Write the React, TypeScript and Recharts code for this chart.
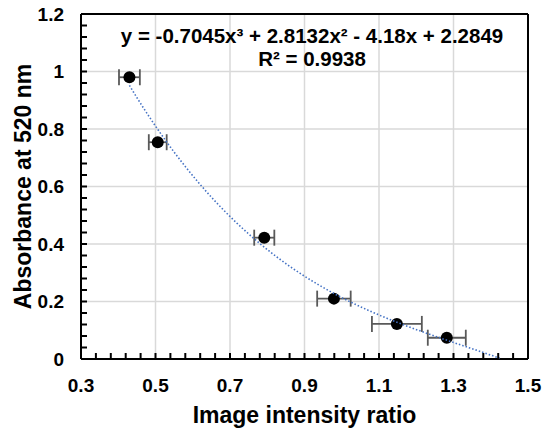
import React from "react";
import {
  ComposedChart,
  ErrorBar,
  ReferenceLine,
  Scatter,
  XAxis,
  YAxis,
} from "recharts";

const ratio = [0.43, 0.506, 0.792, 0.979, 1.148, 1.282];
const absorbance = [0.98, 0.754, 0.422, 0.21, 0.122, 0.074];
const ratioErr = [0.028, 0.024, 0.027, 0.045, 0.067, 0.051];

// cubic trendline coefficients shown on the chart (x^3, x^2, x, 1)
const coeffs = [-0.7045, 2.8132, -4.18, 2.2849];
const trendStart = 0.43;
const trendEnd = 1.424;

const xMajor = [0.3, 0.5, 0.7, 0.9, 1.1, 1.3, 1.5];
const yMajor = [0, 0.2, 0.4, 0.6, 0.8, 1, 1.2];
const xMinor = Array.from({ length: 31 }, (_, i) => Math.round((0.3 + i * 0.04) * 100) / 100);
const yMinor = Array.from({ length: 31 }, (_, i) => Math.round(i * 0.04 * 100) / 100);

const points = ratio.map((x, i) => ({ x, y: absorbance[i], err: ratioErr[i] }));

const trend: { x: number; y: number }[] = [];
for (let i = 0; i <= 100; i++) {
  const x = trendStart + ((trendEnd - trendStart) * i) / 100;
  const y = coeffs[0] * x ** 3 + coeffs[1] * x ** 2 + coeffs[2] * x + coeffs[3];
  trend.push({ x, y: Math.max(y, 0) });
}

const FONT = "'Liberation Sans', Arial, sans-serif";

const isMajor = (v: number, list: number[]) => list.some((m) => Math.abs(m - v) < 1e-6);

// inward tick marks on every minor step, labels only on the major ones
const XTick = (props: any) => {
  const { x, y, payload } = props;
  return (
    <g>
      <path d={`M${x},${y}L${x},${y - 6}`} stroke="#000" strokeWidth={2} fill="none" />
      {isMajor(payload.value, xMajor) && (
        <text x={x} y={y + 20} dy="0.71em" textAnchor="middle" fontFamily={FONT} fontWeight="bold" fontSize={19} fill="#000">
          {payload.value.toFixed(1)}
        </text>
      )}
    </g>
  );
};

const YTick = (props: any) => {
  const { x, y, payload } = props;
  return (
    <g>
      <path d={`M${x},${y}L${x + 6},${y}`} stroke="#000" strokeWidth={2} fill="none" />
      {isMajor(payload.value, yMajor) && (
        <text x={x - 17} y={y} dy="0.355em" textAnchor="end" fontFamily={FONT} fontWeight="bold" fontSize={19} fill="#000">
          {String(Math.round(payload.value * 10) / 10)}
        </text>
      )}
    </g>
  );
};

const Dot = (props: any) => <circle cx={props.cx} cy={props.cy} r={6} fill="#000" />;

export default function App() {
  return (
    <div style={{ position: "absolute", left: 0, top: 0, width: 545, height: 428, background: "#fff" }}>
      <ComposedChart width={545} height={428} margin={{ top: 14, right: 17, left: 0, bottom: 0 }}>
        <XAxis
          type="number"
          dataKey="x"
          domain={[0.3, 1.5]}
          ticks={xMinor}
          interval={0}
          tickSize={0}
          tickMargin={0}
          tick={<XTick />}
          tickLine={false}
          axisLine={{ stroke: "#000", strokeWidth: 2 }}
          height={69}
          allowDataOverflow
          label={{
            value: "Image intensity ratio",
            position: "center",
            dy: 21,
            style: { fontFamily: FONT, fontWeight: "bold", fontSize: 23, fill: "#000" },
          }}
        />
        <YAxis
          type="number"
          dataKey="y"
          domain={[0, 1.2]}
          ticks={yMinor}
          interval={0}
          tickSize={0}
          tickMargin={0}
          tick={<YTick />}
          tickLine={false}
          axisLine={{ stroke: "#000", strokeWidth: 2 }}
          width={81}
          allowDataOverflow
          label={{
            value: "Absorbance at 520 nm",
            angle: -90,
            position: "center",
            dx: -18,
            style: { fontFamily: FONT, fontWeight: "bold", fontSize: 23, fill: "#000", textAnchor: "middle" },
          }}
        />
        {xMajor.slice(1, -1).map((v) => (
          <ReferenceLine key={"vx" + v} x={v} stroke="#d9d9d9" strokeWidth={1.5} />
        ))}
        {yMajor.slice(1, -1).map((v) => (
          <ReferenceLine key={"hy" + v} y={v} stroke="#d9d9d9" strokeWidth={1.5} />
        ))}
        <ReferenceLine x={1.5} stroke="#000" strokeWidth={2} />
        <ReferenceLine y={1.2} stroke="#000" strokeWidth={2} />
        <Scatter data={points} shape={<Dot />} isAnimationActive={false}>
          <ErrorBar dataKey="err" direction="x" width={8} stroke="#595959" strokeWidth={1.8} />
        </Scatter>
        <Scatter
          data={trend}
          line={{ stroke: "#4472c4", strokeWidth: 1.6, strokeDasharray: "1.5 2" }}
          lineType="joint"
          shape={() => <g />}
          isAnimationActive={false}
        />
      </ComposedChart>
      <div
        style={{
          position: "absolute",
          left: 81,
          width: 462,
          top: 24,
          textAlign: "center",
          fontFamily: FONT,
          fontWeight: "bold",
          fontSize: 20.5,
          lineHeight: "23px",
          color: "#000",
        }}
      >
        <div>y = -0.7045x³ + 2.8132x² - 4.18x + 2.2849</div>
        <div>R² = 0.9938</div>
      </div>
    </div>
  );
}
